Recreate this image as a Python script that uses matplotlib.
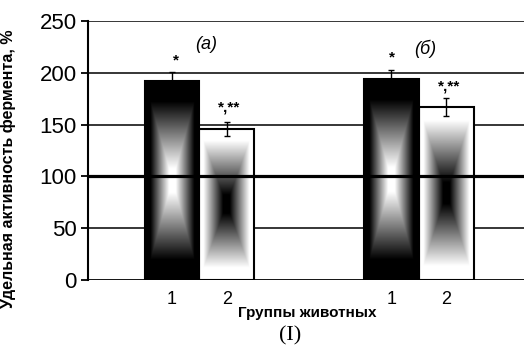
import numpy as np
import matplotlib.pyplot as plt
from matplotlib.patches import Rectangle

# data
groups = ["(а)", "(б)"]
tick_labels = ["1", "2", "1", "2"]
positions = [1, 2, 5, 6]
values = [192, 146, 194, 167]
errors = [9, 7, 9, 9]
stars = ["*", "*,**", "*", "*,**"]

plt.rcParams["font.family"] = ["Liberation Sans", "DejaVu Sans"]

fig = plt.figure(figsize=(5.24, 3.52), dpi=100)
ax = fig.add_axes([0.168, 0.2045, 0.832, 0.7358])

ax.set_xlim(-0.53, 7.42)
ax.set_ylim(0, 250)

# horizontal grid, 100 % line drawn thicker on top of bars
for yv in [50, 150, 200, 250]:
    ax.axhline(yv, color="black", lw=1.1, zorder=1)
ax.axhline(0, color="black", lw=1.3, zorder=5)
ax.axhline(100, color="black", lw=2.3, zorder=6)

# "rectangle from centre" gradient
n = 300
u = np.abs(np.linspace(-1, 1, n))
t = np.maximum(u[None, :], u[:, None])
grad_dark = np.clip((0.8 - t) / 0.68, 0, 1)    # black edges, white centre
grad_light = np.clip((t - 0.12) / 0.72, 0, 1)  # white edges, black centre

w = 1.0
for i, (x, v, e) in enumerate(zip(positions, values, errors)):
    img = grad_dark if i % 2 == 0 else grad_light
    x0, x1 = x - w / 2, x + w / 2
    im = ax.imshow(img, cmap="gray", vmin=0, vmax=1, extent=[x0, x1, 0, v],
                   aspect="auto", interpolation="bilinear", zorder=2)
    rect = Rectangle((x0, 0), w, v, facecolor="none", edgecolor="black",
                     lw=1.5, zorder=3)
    ax.add_patch(rect)
    im.set_clip_path(rect)
    ax.errorbar(x, v, yerr=e, fmt="none", ecolor="black", elinewidth=1.0,
                capsize=2.5, capthick=1.0, zorder=4)

# significance marks and panel labels
ax.text(1.07, 212, stars[0], ha="center", va="center", fontsize=11, fontweight="bold")
ax.text(2.05, 167, stars[1], ha="center", va="center", fontsize=11, fontweight="bold")
ax.text(5.02, 215, stars[2], ha="center", va="center", fontsize=11, fontweight="bold")
ax.text(6.05, 187, stars[3], ha="center", va="center", fontsize=11, fontweight="bold")
ax.text(1.62, 227, groups[0], ha="center", va="center", fontsize=13, style="italic")
ax.text(5.62, 223, groups[1], ha="center", va="center", fontsize=13, style="italic")

ax.set_xticks(positions)
ax.set_xticklabels(tick_labels, fontsize=13)
ax.tick_params(axis="x", length=0, pad=8)
ax.set_yticks([0, 50, 100, 150, 200, 250])
ax.tick_params(axis="y", labelsize=16, length=5, width=1.3, direction="out", pad=3)

for s in ["top", "right", "bottom"]:
    ax.spines[s].set_visible(False)
ax.spines["left"].set_linewidth(1.5)
ax.spines["left"].set_zorder(7)

ax.set_ylabel("Удельная активность фермента, %", fontsize=11.5, fontweight="bold")
ax.yaxis.set_label_coords(-0.165, 0.43)

fig.text(0.587, 0.112, "Группы животных", ha="center", va="center",
         fontsize=11, fontweight="bold")
fig.text(0.553, 0.045, "(I)", ha="center", va="center", fontsize=16,
         family="Liberation Serif")

fig.savefig("out.png", dpi=100)
